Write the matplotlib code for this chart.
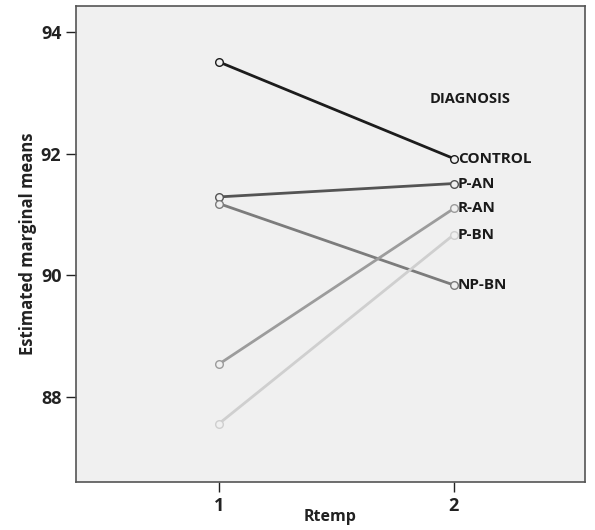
import matplotlib.pyplot as plt

plt.rcParams['font.family'] = ['Open Sans', 'DejaVu Sans']

# data
rtemp = [1, 2]
groups = ['CONTROL', 'P-AN', 'NP-BN', 'R-AN', 'P-BN']
control = [93.51, 91.92]
p_an = [91.29, 91.51]
np_bn = [91.18, 89.84]
r_an = [88.54, 91.10]
p_bn = [87.56, 90.67]
series = [control, p_an, np_bn, r_an, p_bn]
colors = ['#1c1c1c', '#545454', '#7c7c7c', '#9c9c9c', '#cfcfcf']

fig = plt.figure(figsize=(5.95, 5.3), dpi=100)
ax = fig.add_axes([0.1277, 0.0906, 0.855, 0.898])
ax.set_facecolor('#f0f0f0')

for vals, c, name in zip(series, colors, groups):
    ax.plot(rtemp, vals, color=c, linewidth=2, marker='o', markersize=5.5,
            markerfacecolor='#f0f0f0', markeredgecolor=c, markeredgewidth=1)
    ax.annotate(name, (rtemp[1], vals[1]), xytext=(3, 0), textcoords='offset points',
                ha='left', va='center', fontsize=11, fontweight='bold', color='#1a1a1a')

ax.text(2.068, 92.9, 'DIAGNOSIS', fontsize=10.5, fontweight='bold', color='#1a1a1a',
        ha='center', va='center')

ax.set_xlim(0.391, 2.557)
ax.set_ylim(86.6, 94.43)
ax.set_xticks([1, 2])
ax.set_yticks([88, 90, 92, 94])
ax.tick_params(axis='both', direction='out', length=7, width=1, labelsize=13, colors='#222222')
for lab in ax.get_xticklabels() + ax.get_yticklabels():
    lab.set_fontweight('bold')

for s in ax.spines.values():
    s.set_color('#555555')
    s.set_linewidth(1.2)

ax.set_xlabel('Rtemp', fontsize=11.5, fontweight='bold', color='#222222', va='center')
ax.xaxis.set_label_coords(0.5, -0.073)
ax.set_ylabel('Estimated marginal means', fontsize=12, fontweight='bold', color='#222222', labelpad=3)

plt.savefig('out.png', dpi=100)
